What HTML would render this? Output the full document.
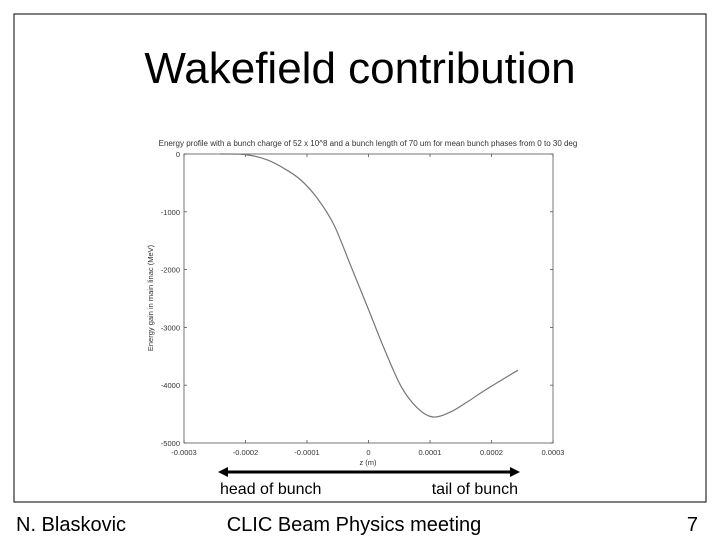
<!DOCTYPE html>
<html><head><meta charset="utf-8"><style>
body{margin:0;background:#fff;}
svg text{font-family:"Liberation Sans",Arial,sans-serif;}
</style></head><body>
<svg width="720" height="540" viewBox="0 0 720 540" xmlns="http://www.w3.org/2000/svg">
<rect x="14" y="14" width="692" height="488" fill="#fff" stroke="#000" stroke-width="1"/>
<text x="360" y="83" font-size="44" text-anchor="middle">Wakefield contribution</text>
<text x="368" y="146" font-size="8" text-anchor="middle" fill="#333">Energy profile with a bunch charge of 52 x 10^8 and a bunch length of 70 um for mean bunch phases from 0 to 30 deg</text>
<rect x="184" y="154" width="369" height="289" fill="none" stroke="#555" stroke-width="0.8"/>
<g id="xt"></g>
<g id="yt"></g>
<text x="368" y="465" font-size="7.5" text-anchor="middle" fill="#333">z (m)</text>
<text transform="translate(153,298) rotate(-90)" font-size="7.5" text-anchor="middle" fill="#333">Energy gain in main linac (MeV)</text>
<path id="curve" fill="none" stroke="#777" stroke-width="1.2"/>
<line x1="226" y1="472" x2="512" y2="472" stroke="#000" stroke-width="3"/>
<polygon points="218,472 228,467 228,477" fill="#000"/>
<polygon points="520,472 510,467 510,477" fill="#000"/>
<text x="220" y="494" font-size="16">head of bunch</text>
<text x="518" y="494" font-size="16" text-anchor="end">tail of bunch</text>
<text x="16" y="531" font-size="20">N. Blaskovic</text>
<text x="354" y="531" font-size="20" text-anchor="middle">CLIC Beam Physics meeting</text>
<text x="698" y="531" font-size="20" text-anchor="end">7</text>
</svg>
<script>
const zVals=[-0.000241,-0.0002,-0.000165,-0.000138,-0.00011,-0.000083,-0.000056,-0.000029,0,0.000026,0.000053,0.00008,0.000105,0.000134,0.000162,0.000189,0.000243];
const eVals=[0,-10,-100,-245,-450,-770,-1230,-1930,-2690,-3380,-4020,-4400,-4550,-4460,-4280,-4090,-3740];
const xTicks=[-0.0003,-0.0002,-0.0001,0,0.0001,0.0002,0.0003];
const yTicks=[0,-1000,-2000,-3000,-4000,-5000];
const X=z=>184+(z+0.0003)/0.0006*369;
const Y=e=>154+(-e)/5000*289;
const NS="http://www.w3.org/2000/svg";
const xt=document.getElementById('xt'),yt=document.getElementById('yt');
xTicks.forEach(t=>{
 const l=document.createElementNS(NS,'line');
 l.setAttribute('x1',X(t));l.setAttribute('x2',X(t));l.setAttribute('y1',443);l.setAttribute('y2',440);
 l.setAttribute('stroke','#555');l.setAttribute('stroke-width','0.8');
 
 
 xt.appendChild(l);
 const l2=l.cloneNode();l2.setAttribute('y1',154);l2.setAttribute('y2',157);
 
 xt.appendChild(l2);
 const tx=document.createElementNS(NS,'text');
 tx.setAttribute('x',X(t));tx.setAttribute('y',455);tx.setAttribute('font-size','7.5');tx.setAttribute('text-anchor','middle');tx.setAttribute('fill','#333');
 tx.textContent=String(t);
 
 
 xt.appendChild(tx);
});
yTicks.forEach(t=>{
 const l=document.createElementNS(NS,'line');
 l.setAttribute('x1',184);l.setAttribute('x2',187);l.setAttribute('y1',Y(t));l.setAttribute('y2',Y(t));
 l.setAttribute('stroke','#555');l.setAttribute('stroke-width','0.8');
 
 
 yt.appendChild(l);
 const l2=l.cloneNode();l2.setAttribute('x1',553);l2.setAttribute('x2',550);
 
 yt.appendChild(l2);
 const tx=document.createElementNS(NS,'text');
 tx.setAttribute('x',180);tx.setAttribute('y',Y(t)+3);tx.setAttribute('font-size','7.5');tx.setAttribute('text-anchor','end');tx.setAttribute('fill','#333');
 tx.textContent=String(t);
 
 
 yt.appendChild(tx);
});
// smooth Catmull-Rom path through the data points
const pts=zVals.map((z,i)=>[X(z),Y(eVals[i])]);
let d='M'+pts[0][0].toFixed(1)+','+pts[0][1].toFixed(1);
for(let i=0;i<pts.length-1;i++){
 const p0=pts[i-1]||pts[i],p1=pts[i],p2=pts[i+1],p3=pts[i+2]||pts[i+1];
 const c1=[p1[0]+(p2[0]-p0[0])/6,p1[1]+(p2[1]-p0[1])/6];
 const c2=[p2[0]-(p3[0]-p1[0])/6,p2[1]-(p3[1]-p1[1])/6];
 d+=' C'+c1.map(v=>v.toFixed(1)).join(',')+' '+c2.map(v=>v.toFixed(1)).join(',')+' '+p2.map(v=>v.toFixed(1)).join(',');
}
document.getElementById('curve').setAttribute('d',d);
</script>
</body></html>
